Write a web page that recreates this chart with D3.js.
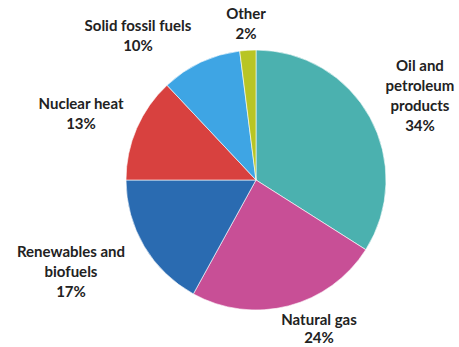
<!DOCTYPE html>
<html>
<head>
<meta charset="utf-8">
<script src="https://d3js.org/d3.v7.min.js"></script>
<style>
  body { margin: 0; background: #fff; }
</style>
</head>
<body>
<div id="chart"></div>
<script>
// energy mix shares, clockwise from 12 o'clock
let categories = ["Oil and petroleum products", "Natural gas", "Renewables and biofuels",
                  "Nuclear heat", "Solid fossil fuels", "Other"];
let values = [34, 24, 17, 13, 10, 2];
let colors = ["#4BB1AF", "#C84F96", "#2A6BB1", "#D8413F", "#3EA5E4", "#B8C524"];
// how each label is broken into lines
let labelLines = [
  ["Oil and", "petroleum", "products"],
  ["Natural gas"],
  ["Renewables and", "biofuels"],
  ["Nuclear heat"],
  ["Solid fossil fuels"],
  ["Other"]
];

let w = 459, h = 347;
let cx = 256, cy = 180, r = 130;
// label block centres (x) and first baseline (y)
let labelPos = [[420, 71], [319, 325], [71, 257], [81, 109], [138, 31], [246, 19]];
let lineH = 20;

let svg = d3.select("#chart").append("svg")
  .attr("width", w).attr("height", h);

let g = svg.append("g").attr("transform", "translate(" + cx + "," + cy + ")");

let pie = d3.pie().sort(null).value(d => d);
let arc = d3.arc().innerRadius(0).outerRadius(r);

g.selectAll("path")
  .data(pie(values))
  .enter()
  .append("path")
  .attr("d", arc)
  .attr("fill", (d, i) => colors[i])
  .attr("stroke", "#fff")
  .attr("stroke-width", 0.6);

let labels = svg.selectAll("text.lbl")
  .data(categories)
  .enter()
  .append("text")
  .attr("class", "lbl")
  .attr("text-anchor", "middle")
  .attr("font-family", "Lato, 'Open Sans', sans-serif")
  .attr("font-weight", "bold")
  .attr("font-size", "15px")
  .attr("fill", "#222");

labels.each(function(d, i) {
  let t = d3.select(this);
  let lines = labelLines[i].concat([values[i] + "%"]);
  // the bottom label sits close to the edge, so its lines are packed tighter
  let step = i === 1 ? 18 : lineH;
  lines.forEach((s, j) => {
    t.append("tspan")
      .attr("x", labelPos[i][0])
      .attr("y", labelPos[i][1] + j * step)
      .text(s);
  });
});
</script>
</body>
</html>
